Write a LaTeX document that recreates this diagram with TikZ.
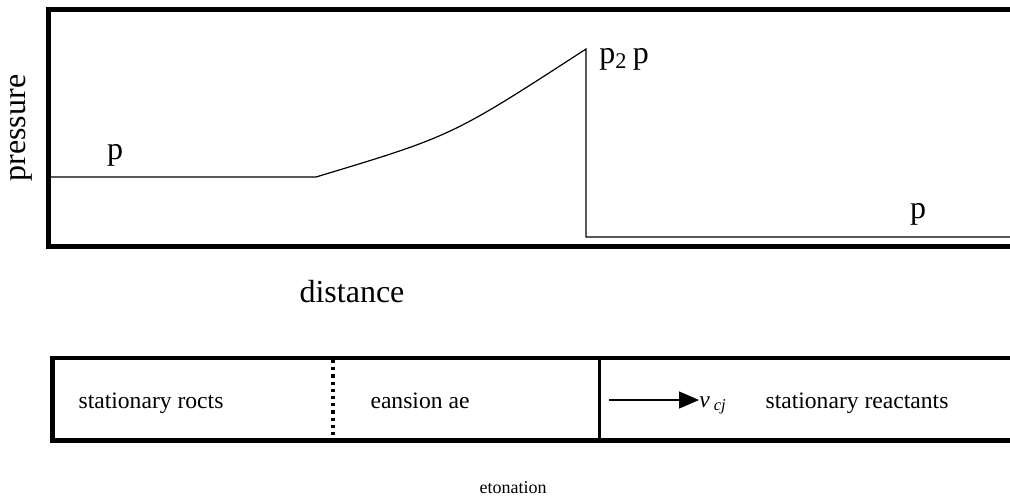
\documentclass[tikz,border=0pt]{standalone}
\usepackage{fontspec}
\setmainfont{Liberation Serif}
\usetikzlibrary{arrows.meta,positioning}

\begin{document}
\begin{tikzpicture}[
    x=0.5pt, y=-0.5pt,
    frame/.style={line width=2.3pt, line join=miter},
    curve/.style={line width=0.6pt},
    label/.style={inner sep=0pt, anchor=base, font=\fontsize{16}{18}\selectfont},
    zone/.style={inner sep=0pt, anchor=base, font=\fontsize{11.8}{14}\selectfont},
    >={Triangle[length=10pt,width=8.5pt]}
]
\useasboundingbox (0,0) rectangle (1010,498);

% pressure plot
\draw[frame] (1010,9.5) -| (48.5,246.5) -- (1010,246.5);
\coordinate (start) at (51,177);
\coordinate (knee) at (316,177);
\coordinate (peak) at (586,49);
\coordinate (foot) at (586,237);
\coordinate (finish) at (1010,237);
\draw[curve] (start) -- (knee) .. controls (452,136) .. (peak) -- (foot) -- (finish);

\node[label] (pleft) at (115,159) {p};
\node[label, anchor=base west] (ptwo) at (599,63) {p\textsubscript{2}\,p};
\node[label] (pright) at (918,218) {p};
\node[label, rotate=90, anchor=center] (pressure) at (21,128) {pressure};
\node[label, anchor=center] (distance) at (352,292) {distance};

% detonation zones
\draw[frame] (1010,358) -| (52.5,440.5) -- (1010,440.5);
\draw[line width=1.6pt, dotted] (333,360) -- (333,439);
\draw[line width=1.5pt] (599,360) -- (599,439);

\node[zone] (products) at (151,408) {stationary rocts};
\node[zone] (expansion) at (420,408) {eansion ae};
\node[zone, anchor=base west] (vcj) at (699,407) {\textit{v}\,\textsubscript{\textit{cj}}};
\node[zone] (reactants) at (857,408) {stationary reactants};
\coordinate (tail) at (609,400);
\draw[->, line width=0.6pt] (tail) -- (vcj.west |- tail);

\node[inner sep=0pt, font=\fontsize{9}{11}\selectfont] (detonation) at (513,488) {etonation};
\end{tikzpicture}
\end{document}
